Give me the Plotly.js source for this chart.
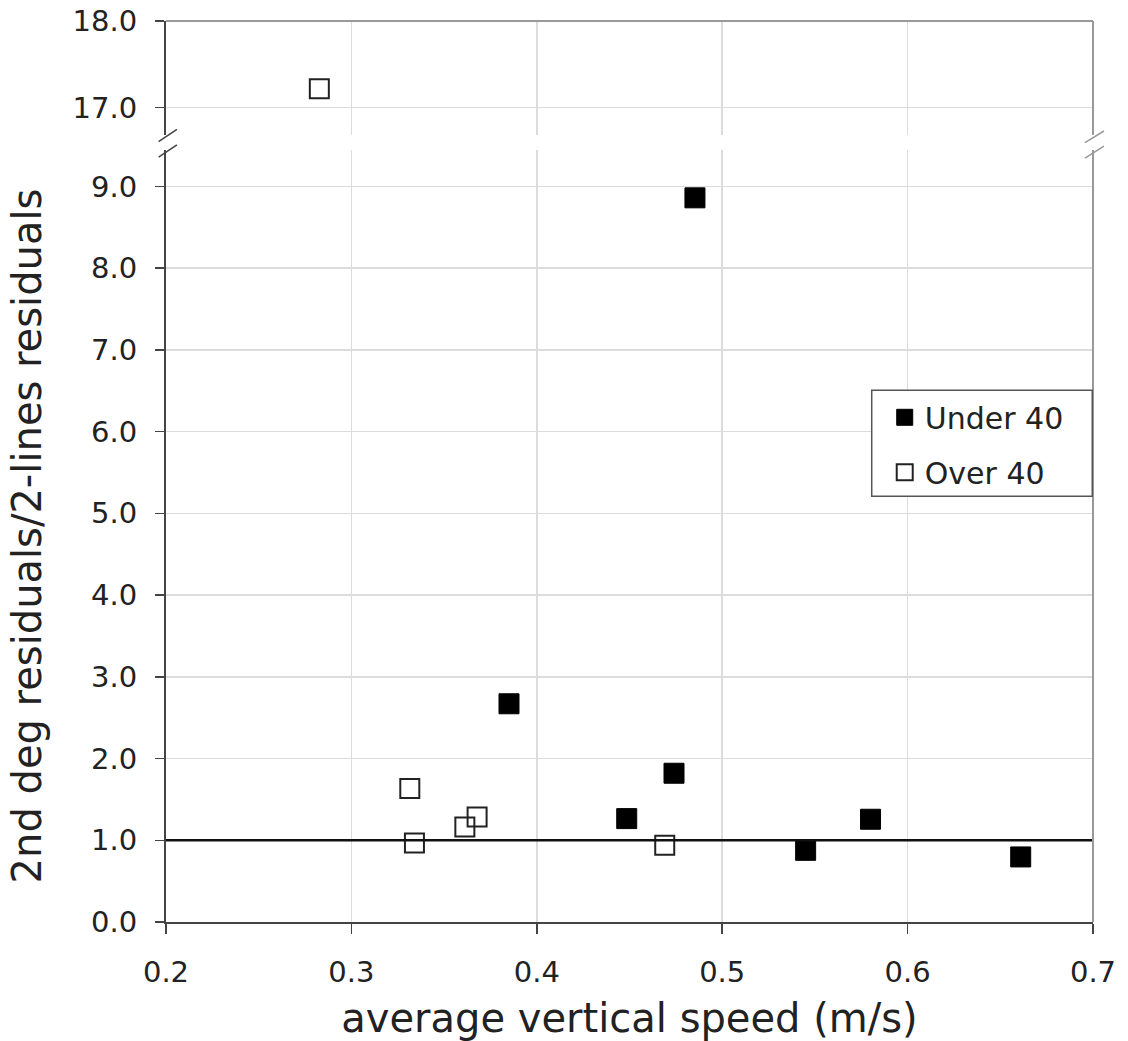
<!DOCTYPE html>
<html>
<head>
<meta charset="utf-8">
<script src="https://cdn.plot.ly/plotly-3.0.1.min.js"></script>
<style>
  html, body { margin: 0; padding: 0; background: #fff; }
  #chart { width: 1128px; height: 1041px; }
</style>
</head>
<body>
<div id="chart"></div>
<script>
// ---- data ----
const underX = [0.385, 0.4485, 0.474, 0.4853, 0.545, 0.580, 0.661];
const underY = [2.67, 1.265, 1.82, 8.86, 0.877, 1.257, 0.796];
const overX  = [0.2827, 0.3315, 0.334, 0.3612, 0.3678, 0.469];
const overY  = [17.215, 1.633, 0.967, 1.163, 1.285, 0.94];
const seriesNames = ['Under 40', 'Over 40'];
const xTickVals = [0.2, 0.3, 0.4, 0.5, 0.6, 0.7];
const lowTickVals = [0, 1, 2, 3, 4, 5, 6, 7, 8, 9];
const highTickVals = [17, 18];
const refLine = 1.0;
const breakValue = 10;

const FONT = '"DejaVu Sans", Verdana, sans-serif';
const lowIdx = overY.map((v, i) => i).filter(i => overY[i] < breakValue);
const highIdx = overY.map((v, i) => i).filter(i => overY[i] >= breakValue);

const underMarker = { symbol: 'square', size: 20, color: '#000', line: { color: '#000', width: 1 } };
const overMarker = { symbol: 'square-open', size: 19, color: '#222', line: { width: 2 } };

const traces = [
  { type: 'scatter', mode: 'markers', name: seriesNames[0], x: underX, y: underY,
    xaxis: 'x', yaxis: 'y', marker: underMarker, legendgroup: 'g1' },
  { type: 'scatter', mode: 'markers', name: seriesNames[1],
    x: lowIdx.map(i => overX[i]), y: lowIdx.map(i => overY[i]),
    xaxis: 'x', yaxis: 'y', marker: overMarker, legendgroup: 'g2' },
  { type: 'scatter', mode: 'markers', name: seriesNames[1], showlegend: false,
    x: highIdx.map(i => overX[i]), y: highIdx.map(i => overY[i]),
    xaxis: 'x2', yaxis: 'y2', marker: overMarker, legendgroup: 'g2' }
];

const lowTop = 0.8568, highBottom = 0.8734;
const gridColor = '#dcdcdc';
const axisColor = '#444';
const borderColor = '#999';

function slash(x0, x1, y0, y1, color) {
  return { type: 'line', xref: 'paper', yref: 'paper', x0: x0, x1: x1, y0: y0, y1: y1,
           line: { color: color, width: 1.5 }, layer: 'above' };
}

const layout = {
  width: 1128, height: 1041,
  margin: { l: 165.7, r: 35, t: 21, b: 119.3 },
  paper_bgcolor: '#fff', plot_bgcolor: '#fff',
  font: { family: FONT, size: 29, color: '#222' },
  showlegend: true,
  legend: {
    x: 0.7613, y: 0.589, xanchor: 'left', yanchor: 'top',
    borderwidth: 0, bgcolor: 'rgba(0,0,0,0)',
    font: { family: FONT, size: 30, color: '#222' },
    indentation: 13, traceorder: 'grouped', tracegroupgap: 13
  },
  xaxis: {
    range: [0.2, 0.7], tickvals: xTickVals, tickformat: '.1f',
    anchor: 'y', domain: [0, 1],
    showline: true, linecolor: axisColor, linewidth: 2,
    ticks: 'outside', ticklen: 10, tickcolor: axisColor, tickwidth: 1.5,
    ticklabelstandoff: 13,
    showgrid: true, gridcolor: gridColor, gridwidth: 1.5, zeroline: false,
    title: { text: 'average vertical speed (m/s)', font: { family: FONT, size: 40, color: '#222' }, standoff: 22 },
    automargin: false
  },
  xaxis2: {
    range: [0.2, 0.7], tickvals: xTickVals, matches: 'x',
    anchor: 'y2', domain: [0, 1],
    showticklabels: false, ticks: '', showline: false,
    showgrid: true, gridcolor: gridColor, gridwidth: 1.5, zeroline: false
  },
  yaxis: {
    range: [0, 9.445], tickvals: lowTickVals, tickformat: '.1f',
    domain: [0, lowTop], anchor: 'x',
    showline: true, linecolor: axisColor, linewidth: 2,
    ticks: 'outside', ticklen: 9, tickcolor: axisColor, tickwidth: 1.5,
    ticklabelstandoff: 12,
    showgrid: true, gridcolor: gridColor, gridwidth: 1.5, zeroline: false,
    title: { text: '2nd deg residuals/2-lines residuals', font: { family: FONT, size: 40, color: '#222' }, standoff: 37 },
    automargin: false
  },
  yaxis2: {
    range: [16.679, 18.0001], tickvals: highTickVals, tickformat: '.1f',
    domain: [highBottom, 1], anchor: 'x2',
    showline: true, linecolor: axisColor, linewidth: 2,
    ticks: 'outside', ticklen: 9, tickcolor: axisColor, tickwidth: 1.5,
    ticklabelstandoff: 12,
    showgrid: true, gridcolor: gridColor, gridwidth: 1.5, zeroline: false,
    automargin: false
  },
  shapes: [
    // reference line at 1.0
    { type: 'line', xref: 'paper', yref: 'y', x0: 0, x1: 1, y0: refLine, y1: refLine,
      line: { color: '#111', width: 2.5 }, layer: 'above' },
    // top border and right borders
    { type: 'line', xref: 'paper', yref: 'paper', x0: 0, x1: 1, y0: 1, y1: 1,
      line: { color: borderColor, width: 2 }, layer: 'above' },
    { type: 'line', xref: 'paper', yref: 'paper', x0: 1, x1: 1, y0: 0, y1: lowTop,
      line: { color: borderColor, width: 2 }, layer: 'above' },
    { type: 'line', xref: 'paper', yref: 'paper', x0: 1, x1: 1, y0: highBottom, y1: 1,
      line: { color: borderColor, width: 2 }, layer: 'above' },
    // legend frame
    { type: 'rect', xref: 'paper', yref: 'paper', x0: 0.7613, x1: 0.9992, y0: 0.4726, y1: 0.5903,
      line: { color: '#555', width: 1.5 }, fillcolor: '#fff', layer: 'above' },
    // break marks
    slash(-0.008, 0.0118, 0.866, 0.8798, '#444'),
    slash(-0.008, 0.0118, 0.849, 0.8624, '#444'),
    slash(0.9913, 1.0118, 0.8649, 0.8779, borderColor),
    slash(0.9913, 1.0118, 0.8479, 0.8612, borderColor)
  ]
};

Plotly.newPlot('chart', traces, layout, { displayModeBar: false, staticPlot: true });
</script>
</body>
</html>
